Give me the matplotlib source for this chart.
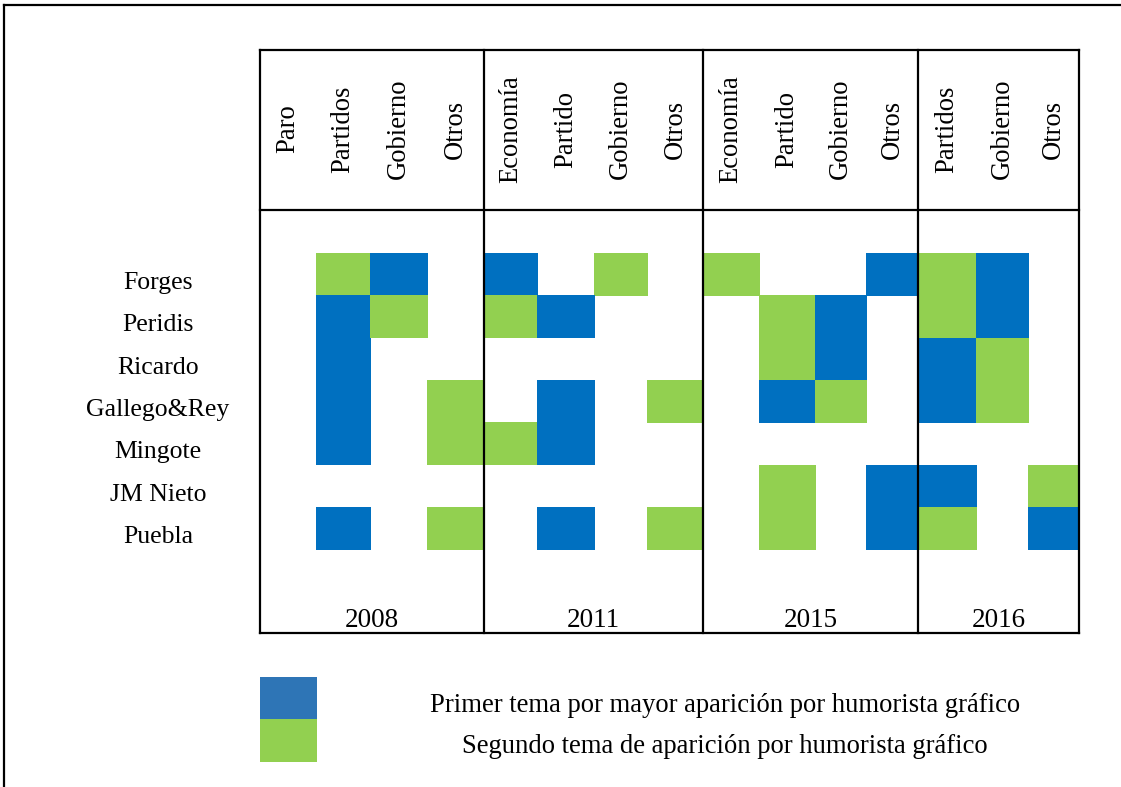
import matplotlib.pyplot as plt

# Datos: 1 = primer tema, 2 = segundo tema, 0 = nada
humoristas = ['Forges', 'Peridis', 'Ricardo', 'Gallego&Rey', 'Mingote', 'JM Nieto', 'Puebla']
anios = ['2008', '2011', '2015', '2016']
temas_2008 = ['Paro', 'Partidos', 'Gobierno', 'Otros']
temas_2011 = ['Economía', 'Partido', 'Gobierno', 'Otros']
temas_2015 = ['Economía', 'Partido', 'Gobierno', 'Otros']
temas_2016 = ['Partidos', 'Gobierno', 'Otros']

tabla_2008 = [[0, 2, 1, 0], [0, 1, 2, 0], [0, 1, 0, 0], [0, 1, 0, 2],
              [0, 1, 0, 2], [0, 0, 0, 0], [0, 1, 0, 2]]
tabla_2011 = [[1, 0, 2, 0], [2, 1, 0, 0], [0, 0, 0, 0], [0, 1, 0, 2],
              [2, 1, 0, 0], [0, 0, 0, 0], [0, 1, 0, 2]]
tabla_2015 = [[2, 0, 0, 1], [0, 2, 1, 0], [0, 2, 1, 0], [0, 1, 2, 0],
              [0, 0, 0, 0], [0, 2, 0, 1], [0, 2, 0, 1]]
tabla_2016 = [[2, 1, 0], [2, 1, 0], [1, 2, 0], [1, 2, 0],
              [0, 0, 0], [1, 0, 2], [2, 0, 1]]

leyenda = ['Primer tema por mayor aparición por humorista gráfico',
           'Segundo tema de aparición por humorista gráfico']

azul = '#0070C0'
verde = '#92D050'
azul_ley = '#2E75B6'
fuente = 'Liberation Serif'

# Layout en pixeles
W, H = 1121, 787
bordes_col = [260, 316, 370, 427, 484, 537, 594, 647, 703, 759, 815, 866, 918, 976, 1028, 1079]
bordes_anio = [260, 484, 703, 918, 1079]
y_top, y_head, y_fila0, alto_fila = 50, 210, 253, 42.3
y_bot = 633

fig = plt.figure(figsize=(W / 100, H / 100), dpi=100)
ax = fig.add_axes([0, 0, 1, 1])
ax.set_xlim(0, W)
ax.set_ylim(H, 0)
ax.axis('off')

temas = temas_2008 + temas_2011 + temas_2015 + temas_2016
tablas = [tabla_2008, tabla_2011, tabla_2015, tabla_2016]
filas = [sum((t[i] for t in tablas), []) for i in range(len(humoristas))]

# celdas
for i, fila in enumerate(filas):
    for j, v in enumerate(fila):
        if v == 0:
            continue
        ax.bar(bordes_col[j], alto_fila + 0.5, width=bordes_col[j + 1] - bordes_col[j] + 0.5,
               bottom=y_fila0 + i * alto_fila, align='edge',
               color=azul if v == 1 else verde, linewidth=0)

# cabecera
for j, t in enumerate(temas):
    xc = (bordes_col[j] + bordes_col[j + 1]) / 2
    ax.text(xc, 129, t, rotation=90, ha='center', va='center',
            fontsize=19.2, family=fuente)

# nombres
for i, h in enumerate(humoristas):
    ax.text(158, y_fila0 + (i + 0.5) * alto_fila + 15, h, ha='center', va='baseline',
            fontsize=18.5, family=fuente)

# años
for k, a in enumerate(anios):
    xc = (bordes_anio[k] + bordes_anio[k + 1]) / 2
    ax.text(xc, 627, a, ha='center', va='baseline', fontsize=19.5, family=fuente)

# lineas de la tabla
lw = 1.6
for x in bordes_anio:
    ax.plot([x, x], [y_top, y_bot], color='black', lw=lw, solid_capstyle='projecting')
for y in [y_top, y_head, y_bot]:
    ax.plot([bordes_anio[0], bordes_anio[-1]], [y, y], color='black', lw=lw,
            solid_capstyle='projecting')

# marco exterior
ax.plot([3.5, W], [5, 5], color='black', lw=1.6)
ax.plot([3.5, 3.5], [5, H], color='black', lw=1.6)

# leyenda
ax.bar(260, 42, width=57, bottom=677, align='edge', color=azul_ley, linewidth=0)
ax.bar(260, 43, width=57, bottom=719, align='edge', color=verde, linewidth=0)
ax.text(725, 712, leyenda[0], ha='center', va='baseline', fontsize=19.2, family=fuente)
ax.text(725, 753, leyenda[1], ha='center', va='baseline', fontsize=19.2, family=fuente)

fig.savefig('out.png', dpi=100)
